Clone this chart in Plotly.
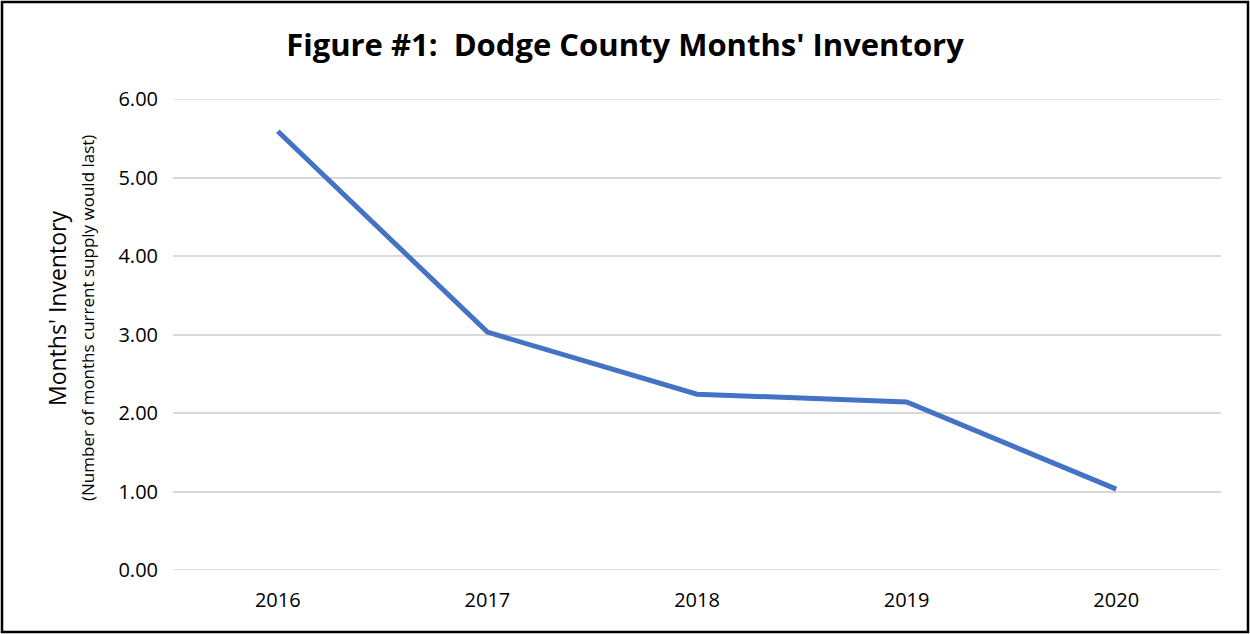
import plotly.graph_objects as go

years = ["2016", "2017", "2018", "2019", "2020"]
months_inventory = [5.59, 3.03, 2.24, 2.14, 1.03]
y_ticks = [0, 1, 2, 3, 4, 5, 6]
y_tick_labels = ["0.00", "1.00", "2.00", "3.00", "4.00", "5.00", "6.00"]

W, H = 1250, 634
L, R, T, B = 173, 29, 99, 64
pw, ph = W - L - R, H - T - B

fig = go.Figure()
fig.add_trace(go.Scatter(
    x=years, y=months_inventory, mode="lines",
    line=dict(color="#4472C4", width=5),
    showlegend=False,
))

font = "Open Sans, Liberation Sans, sans-serif"
fig.update_layout(
    width=W, height=H,
    margin=dict(l=L, r=R, t=T, b=B),
    paper_bgcolor="white", plot_bgcolor="white",
    title=dict(text="<b>Figure #1:  Dodge County Months' Inventory</b>",
               x=0.5, xref="container", y=1 - 45 / H, yref="container",
               xanchor="center", yanchor="middle",
               font=dict(family=font, size=31, color="black")),
    xaxis=dict(type="category", range=[-0.5, 4.5], showgrid=False,
               showline=False, ticks="", zeroline=False,
               tickfont=dict(family=font, size=20, color="black"),
               ticklabelstandoff=16),
    yaxis=dict(range=[0, 6], tickvals=y_ticks, ticktext=y_tick_labels,
               showgrid=True, gridcolor="#D9D9D9", gridwidth=1.5,
               zeroline=False, showline=False, ticks="",
               tickfont=dict(family=font, size=20, color="black"),
               ticklabelstandoff=14),
)

# edge gridlines (plotly omits grid lines at the range boundaries)
for yv in (y_ticks[0], y_ticks[-1]):
    fig.add_shape(type="line", xref="paper", yref="y", x0=0, x1=1, y0=yv, y1=yv,
                  line=dict(color="#D9D9D9", width=1.5), layer="below")

fig.add_annotation(text="Months' Inventory", textangle=-90,
                   xref="paper", yref="paper",
                   x=(57 - L) / pw, y=(570 - 309) / ph,
                   showarrow=False, xanchor="center", yanchor="middle",
                   font=dict(family=font, size=23, color="black"))
fig.add_annotation(text="(Number of months current supply would last)", textangle=-90,
                   xref="paper", yref="paper",
                   x=(87 - L) / pw, y=(570 - 318) / ph,
                   showarrow=False, xanchor="center", yanchor="middle",
                   font=dict(family=font, size=17, color="black"))

fig.add_shape(type="rect", xref="paper", yref="paper",
              x0=(2 - L) / pw, x1=(W - 2 - L) / pw,
              y0=(570 - (H - 2)) / ph, y1=(570 - 2) / ph,
              line=dict(color="black", width=2.5), fillcolor="rgba(0,0,0,0)")

fig.write_html("out.html", config={"displayModeBar": False},
               post_script="document.body.style.margin='0';document.body.style.overflow='hidden';")
